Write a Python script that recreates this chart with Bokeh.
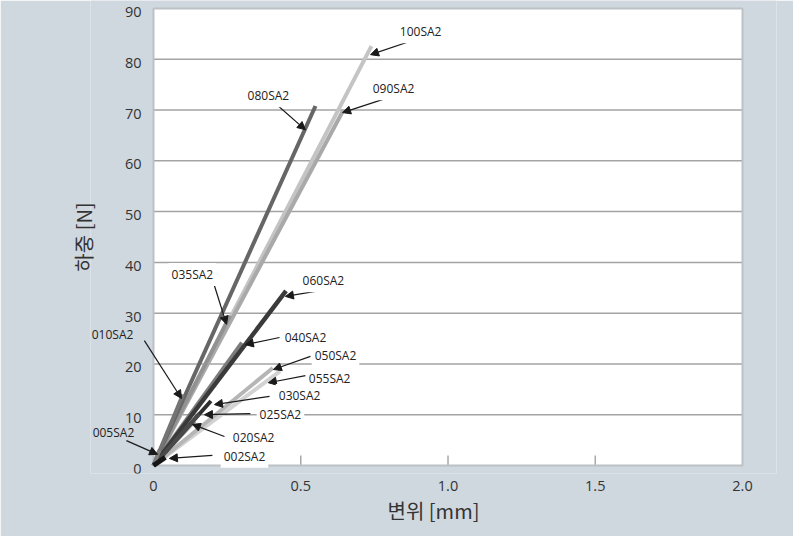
from bokeh.plotting import figure
from bokeh.models import Label, Arrow, NormalHead, FixedTicker, Range1d
from bokeh.core.properties import value
from bokeh.embed import file_html
from bokeh.resources import INLINE

# ---- data (line end points; every line starts at the origin) ----
names = ["100SA2", "090SA2", "055SA2", "050SA2", "035SA2", "020SA2", "040SA2",
         "080SA2", "010SA2", "060SA2", "030SA2", "025SA2", "005SA2", "002SA2"]
end_x = [0.74, 0.645, 0.43, 0.405, 0.26, 0.14, 0.30, 0.55, 0.10, 0.45, 0.195, 0.155, 0.02, 0.04]
end_y = [82.6, 70.0, 18.6, 19.2, 29.5, 8.8, 24.2, 70.8, 14.0, 34.4, 12.7, 10.2, 3.0, 1.6]
colors = ["#c4c4c4", "#a9a9a9", "#d2d2d2", "#b5b5b5", "#929292", "#9c9c9c", "#7c7c7c",
          "#666666", "#747474", "#3a3a3a", "#303030", "#4a4a4a", "#808080", "#151515"]
widths = [4, 4, 4, 4, 4, 4, 4, 4, 4, 4.5, 4, 4, 4, 5]

x_min, x_max = 0, 2.0
y_min, y_max = 0, 90
x_ticks = [0, 0.5, 1.0, 1.5, 2.0]
x_tick_labels = ["0", "0.5", "1.0", "1.5", "2.0"]
y_ticks = [0, 10, 20, 30, 40, 50, 60, 70, 80, 90]
y_tick_labels = [str(t) for t in y_ticks]
grid_y = [10, 20, 30, 40, 50, 60, 70, 80]
inner_ticks = [0.5, 1.0, 1.5]

# ---- annotation placement (label centre, arrow start, arrow end) ----
ann = {
    "100SA2": ((0.907, 85.4), (0.890, 83.9), (0.737, 80.9)),
    "090SA2": ((0.815, 74.2), (0.795, 72.4), (0.642, 69.5)),
    "080SA2": ((0.390, 72.8), (0.414, 71.3), (0.516, 66.1)),
    "035SA2": ((0.132, 37.6), (0.207, 35.4), (0.248, 27.8)),
    "060SA2": ((0.577, 36.4), (0.560, 34.4), (0.448, 33.3)),
    "040SA2": ((0.516, 25.2), (0.428, 25.2), (0.312, 23.8)),
    "050SA2": ((0.618, 21.7), (0.533, 21.5), (0.407, 18.9)),
    "055SA2": ((0.598, 17.1), (0.516, 17.7), (0.390, 16.3)),
    "030SA2": ((0.496, 13.8), (0.394, 13.6), (0.207, 12.0)),
    "025SA2": ((0.431, 10.0), (0.329, 10.2), (0.173, 10.0)),
    "020SA2": ((0.340, 5.5), (0.241, 5.7), (0.132, 8.1)),
    "002SA2": ((0.309, 1.8), (0.200, 2.0), (0.054, 1.4)),
    "010SA2": ((-0.139, 25.8), (-0.031, 24.6), (0.095, 13.2)),
    "005SA2": ((-0.136, 6.5), (-0.092, 4.9), (0.014, 2.2)),
}
outside = {"010SA2", "005SA2"}

BG = "#d0d8df"
TXT = "#333333"

p = figure(width=793, height=536, output_backend="svg", toolbar_location=None,
           x_range=Range1d(-0.2139, 2.1154), y_range=Range1d(-1.575, 91.57),
           min_border_left=90, min_border_right=17, min_border_top=0, min_border_bottom=63)

p.background_fill_color = BG
p.border_fill_color = BG
p.outline_line_color = None
p.xgrid.grid_line_color = None
p.ygrid.grid_line_color = None

# white plotting area
p.quad(left=[x_min], right=[x_max], bottom=[y_min], top=[y_max],
       fill_color="white", line_color=None)
# horizontal grid lines
p.segment(x0=[x_min] * len(grid_y), y0=grid_y, x1=[x_max] * len(grid_y), y1=grid_y,
          line_color="#a3a3a3", line_width=1.5)
# small inward x ticks
p.segment(x0=inner_ticks, y0=[0] * 3, x1=inner_ticks, y1=[1.97] * 3,
          line_color="#a8a8a8", line_width=1.5)
# frame border
p.quad(left=[x_min], right=[x_max], bottom=[y_min], top=[y_max],
       fill_color=None, line_color="#bcc1c6", line_width=2)

# y tick labels
p.text(x=[-0.0407] * len(y_ticks), y=y_ticks, text=y_tick_labels,
       text_align="right", text_baseline="middle", y_offset=3.5,
       text_font=value("Open Sans"), text_font_size="14.5px", text_color=TXT)

# x axis
p.xaxis.ticker = FixedTicker(ticks=x_ticks)
p.xaxis.major_label_overrides = {t: l for t, l in zip(x_ticks, x_tick_labels)}
p.xaxis.major_tick_line_color = None
p.xaxis.major_label_standoff = 1
p.xaxis.axis_label = "변위 [mm]"
p.xaxis.axis_label_standoff = 2

# y axis (label only)
p.yaxis.ticker = FixedTicker(ticks=[])
p.yaxis.major_tick_line_color = None
p.yaxis.major_label_text_font_size = "0px"
p.yaxis.major_label_standoff = 0
p.yaxis.axis_label = "하중 [N]"
p.yaxis.axis_label_standoff = -7

for ax in (p.xaxis[0], p.yaxis[0]):
    ax.axis_line_color = None
    ax.minor_tick_line_color = None
    ax.major_label_text_font = "Open Sans"
    ax.major_label_text_color = TXT
    ax.axis_label_text_font = "Noto Sans CJK KR"
    ax.axis_label_text_font_size = "20px"
    ax.axis_label_text_font_style = "normal"
    ax.axis_label_text_color = TXT
p.xaxis.major_label_text_font_size = "14.5px"

# data lines
for n, ex, ey, c, w in zip(names, end_x, end_y, colors, widths):
    p.line([0, ex], [0, ey], line_color=c, line_width=w)

# arrows and labels
for n in names:
    (lx, ly), (sx, sy), (tx, ty) = ann[n]
    p.add_layout(Arrow(x_start=sx, y_start=sy, x_end=tx, y_end=ty,
                       line_color="#1a1a1a", line_width=1.2,
                       end=NormalHead(size=8, fill_color="#1a1a1a", line_color="#1a1a1a")))
for n in names:
    (lx, ly), _, _ = ann[n]
    kw = {}
    if n not in outside:
        kw = dict(background_fill_color="white", padding=3)
    p.add_layout(Label(x=lx, y=ly, text=n, text_align="center", text_baseline="middle",
                       text_font="Open Sans", text_font_size="12px", text_color="#222222", **kw))

open("out.html", "w").write(file_html(p, INLINE))
